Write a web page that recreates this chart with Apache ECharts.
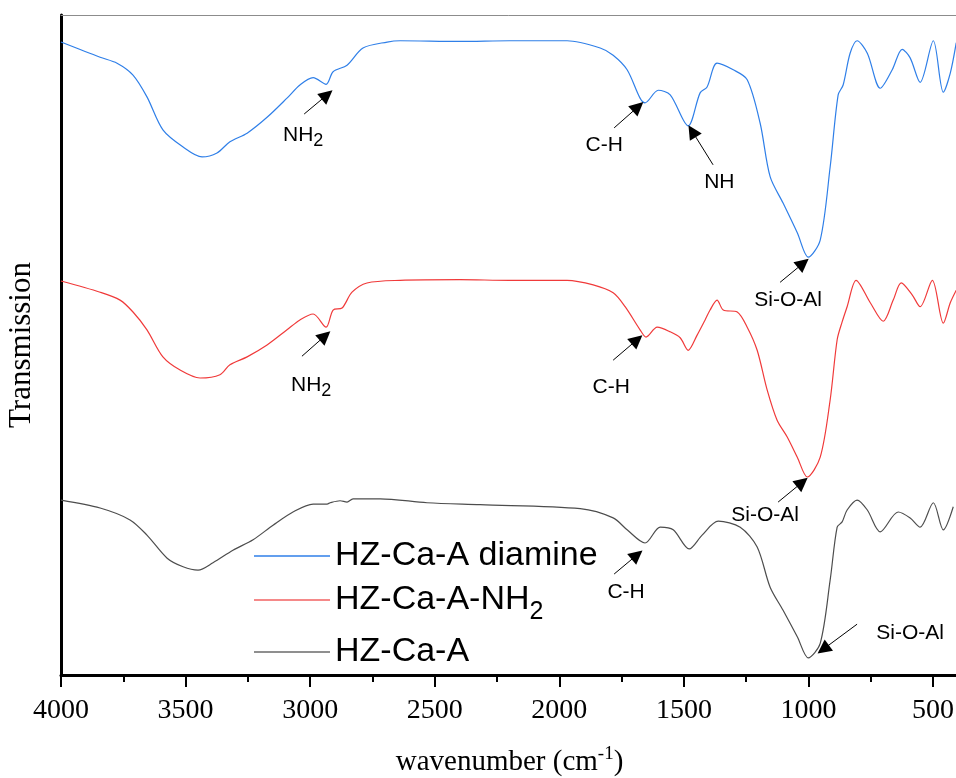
<!DOCTYPE html>
<html>
<head>
<meta charset="utf-8">
<script src="https://cdn.jsdelivr.net/npm/echarts@6/dist/echarts.min.js"></script>
<style>
html,body{margin:0;padding:0;background:#fff;}
#main{width:956px;height:778px;}
</style>
</head>
<body>
<div id="main"></div>
<script>
// wavenumber (cm-1) and transmission (a.u., 0-100)
var diamineWn = [4000,3843,3775,3711,3655,3591,3510,3434,3374,3322,3253,3173,3093,3041,2988,2936,2908,2852,2788,2691,2639,2400,2200,1969,1836,1784,1728,1676,1656,1603,1555,1483,1435,1407,1367,1302,1246,1194,1154,1102,1045,1001,953,913,881,861,833,805,764,712,664,624,592,552,499,459,431,407];
var diamineT  = [95.9,93.6,92.7,90.9,87.6,82.6,80.0,78.5,79.1,80.8,82.1,84.5,87.4,89.4,90.5,89.5,91.4,92.4,95.0,95.9,96.1,96.0,96.1,96.1,95.0,93.9,91.7,87.4,86.7,88.6,87.9,83.2,88.2,89.1,92.7,91.7,90.2,83.6,75.5,71.5,67.0,63.3,65.9,77.0,87.9,89.4,94.2,96.1,94.2,88.9,91.7,94.8,93.5,89.8,96.1,88.3,91.2,95.8];

var nh2Wn = [4000,3843,3763,3711,3655,3591,3522,3442,3362,3322,3253,3173,3093,3041,2988,2936,2908,2872,2832,2772,2639,2400,2200,1969,1864,1784,1736,1676,1652,1607,1555,1515,1483,1447,1415,1395,1367,1342,1286,1246,1206,1166,1126,1086,1045,1005,953,913,885,865,845,809,752,700,660,628,584,552,503,459,431,407];
var nh2T  = [59.7,58.0,56.8,55.0,52.3,48.2,46.2,45.0,45.5,47.0,48.2,50.0,52.3,53.8,54.7,52.7,55.3,55.6,58.0,59.4,59.8,59.9,59.8,59.8,59.1,57.9,55.8,52.3,51.2,52.7,52.0,51.1,49.2,51.5,53.8,55.3,56.8,55.3,55.0,52.7,49.2,43.2,38.6,36.1,33.0,30.0,33.0,41.7,50.8,53.5,55.8,59.8,56.4,53.6,56.8,59.4,57.6,55.8,59.8,53.3,56.4,58.3];

var caWn = [4000,3843,3723,3655,3574,3510,3450,3390,3310,3229,3149,3069,2988,2932,2920,2880,2852,2828,2719,2531,2318,1916,1784,1728,1656,1595,1543,1479,1427,1362,1274,1206,1154,1102,1045,1001,953,913,885,865,845,805,764,712,640,592,552,499,459,419];
var caT  = [26.5,25.3,23.5,21.2,17.7,16.4,15.9,17.0,18.9,20.5,22.7,24.7,25.9,25.9,26.1,26.4,26.2,26.7,26.7,26.1,25.8,25.2,23.8,22.0,20.0,22.4,22.0,19.1,21.2,23.3,22.4,19.4,13.3,9.8,5.8,2.6,4.8,14.4,22.4,23.2,25.0,26.5,25.0,21.7,24.7,23.8,22.4,26.1,22.0,25.5];

var seriesNames = ['HZ-Ca-A diamine','HZ-Ca-A-NH\u2082','HZ-Ca-A'];
var majorTicks = [500,1000,1500,2000,2500,3000,3500,4000];
var minorTicks = [750,1250,1750,2250,2750,3250,3750];

// band assignments
var annoText  = ['NH{sub|2}','C-H','NH','Si-O-Al','NH{sub|2}','C-H','Si-O-Al','C-H','Si-O-Al'];
var annoAt    = [[3028,81.8],[1820,80.3],[1358,74.7],[1082,56.8],[2996,43.9],[1792,43.6],[1174,24.2],[1732,12.6],[592,6.4]];
var arrowTail = [[3024,85.0],[1780,82.9],[1383,77.3],[1114,59.5],[3033,48.3],[1784,47.7],[1122,26.2],[1780,15.3],[805,7.7]];
var arrowTip  = [[2932,87.9],[1684,86.1],[1467,82.4],[1021,62.4],[2940,51.4],[1688,50.8],[1025,29.2],[1688,18.2],[941,3.9]];

function zip(a,b){
  var out=[];
  for(var i=0;i<a.length;i++){ out.push([a[i],b[i]]); }
  return out;
}

var myChart = echarts.init(document.getElementById('main'));

var serif = 'Liberation Serif';
var sans = 'Liberation Sans';

var option = {
  animation:false,
  grid:{ left:61, right:-2, top:15, bottom:103, containLabel:false, outerBoundsMode:'none' },
  legend:{
    data: seriesNames,
    orient:'vertical',
    left:249, top:534,
    icon:'rect',
    itemWidth:76, itemHeight:1.3, itemGap:10,
    formatter:function(name){
      return name === 'HZ-Ca-A-NH\u2082' ? 'HZ-Ca-A-NH{sub|2}' : name;
    },
    textStyle:{
      fontFamily:sans, fontSize:34, color:'#000',
      rich:{ sub:{ fontFamily:sans, fontSize:25, padding:[25,0,0,0], color:'#000' } }
    }
  },
  xAxis:[
    {
      type:'value', position:'bottom', inverse:true, min:400, max:4000,
      axisLine:{ show:true, lineStyle:{ color:'#000', width:3 } },
      axisTick:{ show:true, inside:false, length:12, customValues:majorTicks, lineStyle:{ color:'#000', width:2 } },
      axisLabel:{ customValues:majorTicks, margin:22, fontFamily:serif, fontSize:28, color:'#000',
        formatter:function(v){ return String(v); } },
      splitLine:{ show:false },
      name:'wavenumber (cm{sup|-1})',
      nameLocation:'middle', nameGap:70,
      nameTextStyle:{ fontFamily:serif, fontSize:29, color:'#000',
        rich:{ sup:{ fontFamily:serif, fontSize:19, padding:[0,0,16,0], color:'#000' } } }
    },
    {
      type:'value', position:'bottom', inverse:true, min:400, max:4000,
      axisLine:{ show:false },
      axisTick:{ show:true, inside:false, length:7, customValues:minorTicks, lineStyle:{ color:'#000', width:2 } },
      axisLabel:{ show:false },
      splitLine:{ show:false }
    },
    {
      type:'value', position:'top', inverse:true, min:400, max:4000,
      axisLine:{ show:true, lineStyle:{ color:'#8c8c8c', width:1 } },
      axisTick:{ show:false }, axisLabel:{ show:false }, splitLine:{ show:false }
    }
  ],
  yAxis:{
    type:'value', min:0, max:100,
    axisLine:{ show:true, lineStyle:{ color:'#000', width:3 } },
    axisTick:{ show:false }, axisLabel:{ show:false }, splitLine:{ show:false },
    name:'Transmission', nameLocation:'middle', nameGap:24,
    nameTextStyle:{ fontFamily:serif, fontSize:31, color:'#000' }
  },
  series:[
    {
      name:seriesNames[0], type:'line', data:zip(diamineWn,diamineT),
      smooth:0.3, symbol:'none', lineStyle:{ color:'#2f7fe8', width:1.2 }, itemStyle:{ color:'#2f7fe8' }
    },
    {
      name:seriesNames[1], type:'line', data:zip(nh2Wn,nh2T),
      smooth:0.3, symbol:'none', lineStyle:{ color:'#f03a3a', width:1.2 }, itemStyle:{ color:'#f26262' }
    },
    {
      name:seriesNames[2], type:'line', data:zip(caWn,caT),
      smooth:0.3, symbol:'none', lineStyle:{ color:'#4d4d4d', width:1.2 }, itemStyle:{ color:'#6a6a6a' }
    },
    {
      name:'arrows', type:'lines', coordinateSystem:'cartesian2d',
      symbol:['none','triangle'], symbolSize:[9,14],
      lineStyle:{ color:'#000', width:1, opacity:1 },
      data: arrowTail.map(function(p,i){ return { coords:[p, arrowTip[i]] }; }),
      silent:true, z:5
    },
    {
      name:'labels', type:'scatter', symbolSize:0,
      itemStyle:{ opacity:1 },
      data: annoAt.map(function(p,i){ return { value:p, text:annoText[i] }; }),
      label:{
        show:true, position:'inside', color:'#000', fontFamily:sans, fontSize:21,
        formatter:function(p){ return p.data.text; },
        rich:{ sub:{ fontFamily:sans, fontSize:18, padding:[12,0,0,0], color:'#000' } }
      },
      silent:true, z:5
    }
  ]
};
myChart.setOption(option);
</script>
</body>
</html>
